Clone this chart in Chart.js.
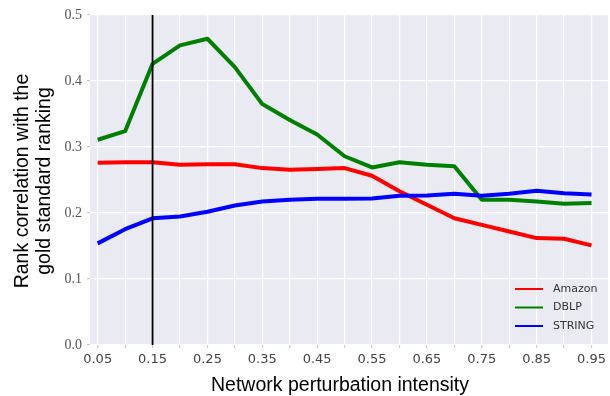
<!DOCTYPE html>
<html>
<head>
<meta charset="utf-8">
<script src="https://cdn.jsdelivr.net/npm/chart.js@4/dist/chart.umd.min.js"></script>
<style>
  html, body { margin: 0; padding: 0; background: #ffffff; }
  #wrap { width: 610px; height: 396px; position: relative; }
</style>
</head>
<body>
<div id="wrap"><canvas id="c" width="610" height="396"></canvas></div>
<script>
// ---- data ----
const xValues = [0.05,0.10,0.15,0.20,0.25,0.30,0.35,0.40,0.45,0.50,0.55,0.60,0.65,0.70,0.75,0.80,0.85,0.90,0.95];
const amazon = [0.276,0.277,0.277,0.273,0.274,0.274,0.268,0.2655,0.2665,0.268,0.2565,0.233,0.2125,0.192,0.182,0.172,0.162,0.161,0.151];
const dblp   = [0.311,0.324,0.426,0.454,0.464,0.421,0.365,0.341,0.319,0.286,0.269,0.277,0.273,0.271,0.220,0.220,0.2175,0.214,0.215];
const stringSeries = [0.154,0.1755,0.192,0.1947,0.202,0.2114,0.2175,0.220,0.2215,0.2215,0.222,0.226,0.2265,0.229,0.226,0.229,0.2337,0.230,0.228];
const seriesNames = ['Amazon','DBLP','STRING'];
const seriesColors = ['#ff0000','#008000','#0000ff'];
const xTickLabels = ['0.05','0.15','0.25','0.35','0.45','0.55','0.65','0.75','0.85','0.95'];
const yTicks = [0.0,0.1,0.2,0.3,0.4,0.5];
const markerX = 0.15;
const xTitle = 'Network perturbation intensity';
const yTitle = ['Rank correlation with the','gold standard ranking'];

const toPts = arr => arr.map((v,i) => ({x: xValues[i], y: v}));

const bgPlugin = {
  id: 'bg',
  beforeDraw(chart) {
    const {ctx, chartArea: a} = chart;
    ctx.save();
    ctx.fillStyle = '#EAEAF2';
    ctx.fillRect(a.left, a.top, a.right - a.left, a.bottom - a.top);
    ctx.restore();
  }
};

const textPlugin = {
  id: 'texts',
  afterDraw(chart) {
    const ctx = chart.ctx;
    ctx.save();
    // axis titles
    ctx.fillStyle = '#000';
    ctx.font = '19.5px "Liberation Sans", Arial, sans-serif';
    ctx.textAlign = 'center';
    ctx.textBaseline = 'alphabetic';
    ctx.fillText(xTitle, 340, 391);
    ctx.translate(0, 181);
    ctx.rotate(-Math.PI/2);
    ctx.fillText(yTitle[0], 0, 28);
    ctx.fillText(yTitle[1], 0, 50);
    ctx.restore();

    // legend
    ctx.save();
    const ds = chart.data.datasets.filter(d => seriesNames.includes(d.label));
    ctx.font = '11px "DejaVu Sans", sans-serif';
    ctx.textAlign = 'left';
    ctx.textBaseline = 'middle';
    ds.forEach((d, i) => {
      const y = 289 + i * 18.5;
      ctx.strokeStyle = d.borderColor;
      ctx.lineWidth = 2;
      ctx.beginPath();
      ctx.moveTo(515, y);
      ctx.lineTo(543, y);
      ctx.stroke();
      ctx.fillStyle = '#333';
      ctx.fillText(d.label, 553, y);
    });
    ctx.restore();
  }
};

const datasets = [
  { label: 'marker', data: [{x: markerX, y: yTicks[0]}, {x: markerX, y: yTicks[yTicks.length-1]}],
    borderColor: '#000', borderWidth: 1.8, pointRadius: 0, order: 0 },
  ...[amazon, dblp, stringSeries].map((arr, i) => ({
    label: seriesNames[i], data: toPts(arr), borderColor: seriesColors[i],
    borderWidth: 4, pointRadius: 0, tension: 0, fill: false, order: 3 - i,
    borderJoinStyle: 'round', borderCapStyle: 'butt'
  }))
];

new Chart(document.getElementById('c'), {
  type: 'line',
  data: { datasets },
  options: {
    responsive: false,
    animation: false,
    devicePixelRatio: 1,
    layout: { padding: { top: 15, right: 0, left: 0, bottom: 0 } },
    plugins: { legend: { display: false }, tooltip: { enabled: false } },
    scales: {
      x: {
        type: 'linear',
        min: 0.036, max: 0.98,
        afterBuildTicks(scale) { scale.ticks = xValues.map(v => ({value: v})); },
        afterFit(scale) { scale.height = 51; },
        grid: { color: '#ffffff', lineWidth: 1.2, tickColor: '#c8c8c8', tickLength: 3 },
        border: { display: false },
        ticks: {
          autoSkip: false, maxRotation: 0, minRotation: 0, padding: 4,
          color: '#444',
          font: { family: '"DejaVu Sans", sans-serif', size: 13 },
          callback(value, index) {
            return index % 2 === 0 ? xTickLabels[index / 2] : '';
          }
        }
      },
      y: {
        min: 0, max: 0.5,
        afterBuildTicks(scale) { scale.ticks = yTicks.map(v => ({value: v})); },
        afterFit(scale) { scale.width = 90; },
        grid: { color: '#ffffff', lineWidth: 1.2, tickColor: '#c8c8c8', tickLength: 3 },
        border: { display: false },
        ticks: {
          padding: 5, color: '#555',
          font: { family: '"Liberation Serif", serif', size: 14 },
          callback(value) { return Number(value).toFixed(1); }
        }
      }
    }
  },
  plugins: [bgPlugin, textPlugin]
});
</script>
</body>
</html>
